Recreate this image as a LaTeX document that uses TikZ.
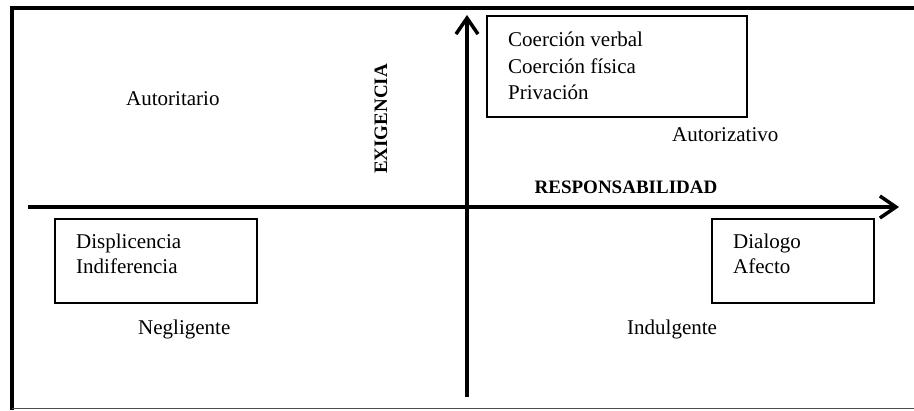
\documentclass[tikz,border=0pt]{standalone}
\usepackage{fontspec}
\setmainfont{Liberation Serif}
\usetikzlibrary{arrows.meta}

\tikzset{
	caja/.style={draw, line width=1.5pt, inner sep=0pt},
	texto/.style={font=\fontsize{21}{26}\selectfont, inner sep=0pt, anchor=base west},
	rotulo/.style={font=\fontsize{19}{22}\selectfont\bfseries, inner sep=0pt},
	eje/.style={line width=3.5pt, -{Straight Barb[length=16pt, width=22pt]}}
}

\begin{document}
\begin{tikzpicture}[x=1pt, y=-1pt]
			%%%%% START %%%%%
			\useasboundingbox (0, 0) rectangle (914, 411);
			
			% marco
			\draw[line width=4pt] (11.5, 8.5) -- (914, 8.5);
			\draw[line width=4pt] (11.5, 6.5) -- (11.5, 410);
			\draw[line width=1pt, color=black!70] (11.5, 408.5) -- (914, 408.5);
			
			% ejes
			\coordinate (ex0) at (467, 397);
			\coordinate (ex1) at (467, 15);
			\coordinate (re0) at (28, 207);
			\coordinate (re1) at (899, 207);
			\draw[eje] (ex0) -- (ex1);
			\draw[eje] (re0) -- (re1);
			
			\node[rotulo, rotate=90] (exigencia) at (381, 119) {EXIGENCIA};
			\node[rotulo] (responsabilidad) at (626, 187) {RESPONSABILIDAD};
			
			% cajas
			\node[caja, minimum width=260pt, minimum height=101pt] (cajaAut) at (617, 66.5) {};
			\node[texto] (coer1) at (508, 47) {Coerción verbal};
			\node[texto] (coer2) at (508, 74) {Coerción física};
			\node[texto] (priv) at (508, 100) {Privación};
			
			\node[caja, minimum width=202pt, minimum height=84pt] (cajaNeg) at (156, 261) {};
			\node[texto] (displ) at (76, 249) {Displicencia};
			\node[texto] (indif) at (76, 274) {Indiferencia};
			
			\node[caja, minimum width=162pt, minimum height=84pt] (cajaInd) at (793, 261) {};
			\node[texto] (dialogo) at (733, 249) {Dialogo};
			\node[texto] (afecto) at (733, 274) {Afecto};
			
			% estilos
			\node[texto] (autoritario) at (126, 106) {Autoritario};
			\node[texto] (autorizativo) at (672, 142) {Autorizativo};
			\node[texto] (negligente) at (138, 335) {Negligente};
			\node[texto] (indulgente) at (627, 335) {Indulgente};
			
			%%%%% END %%%%%
\end{tikzpicture}
\end{document}
